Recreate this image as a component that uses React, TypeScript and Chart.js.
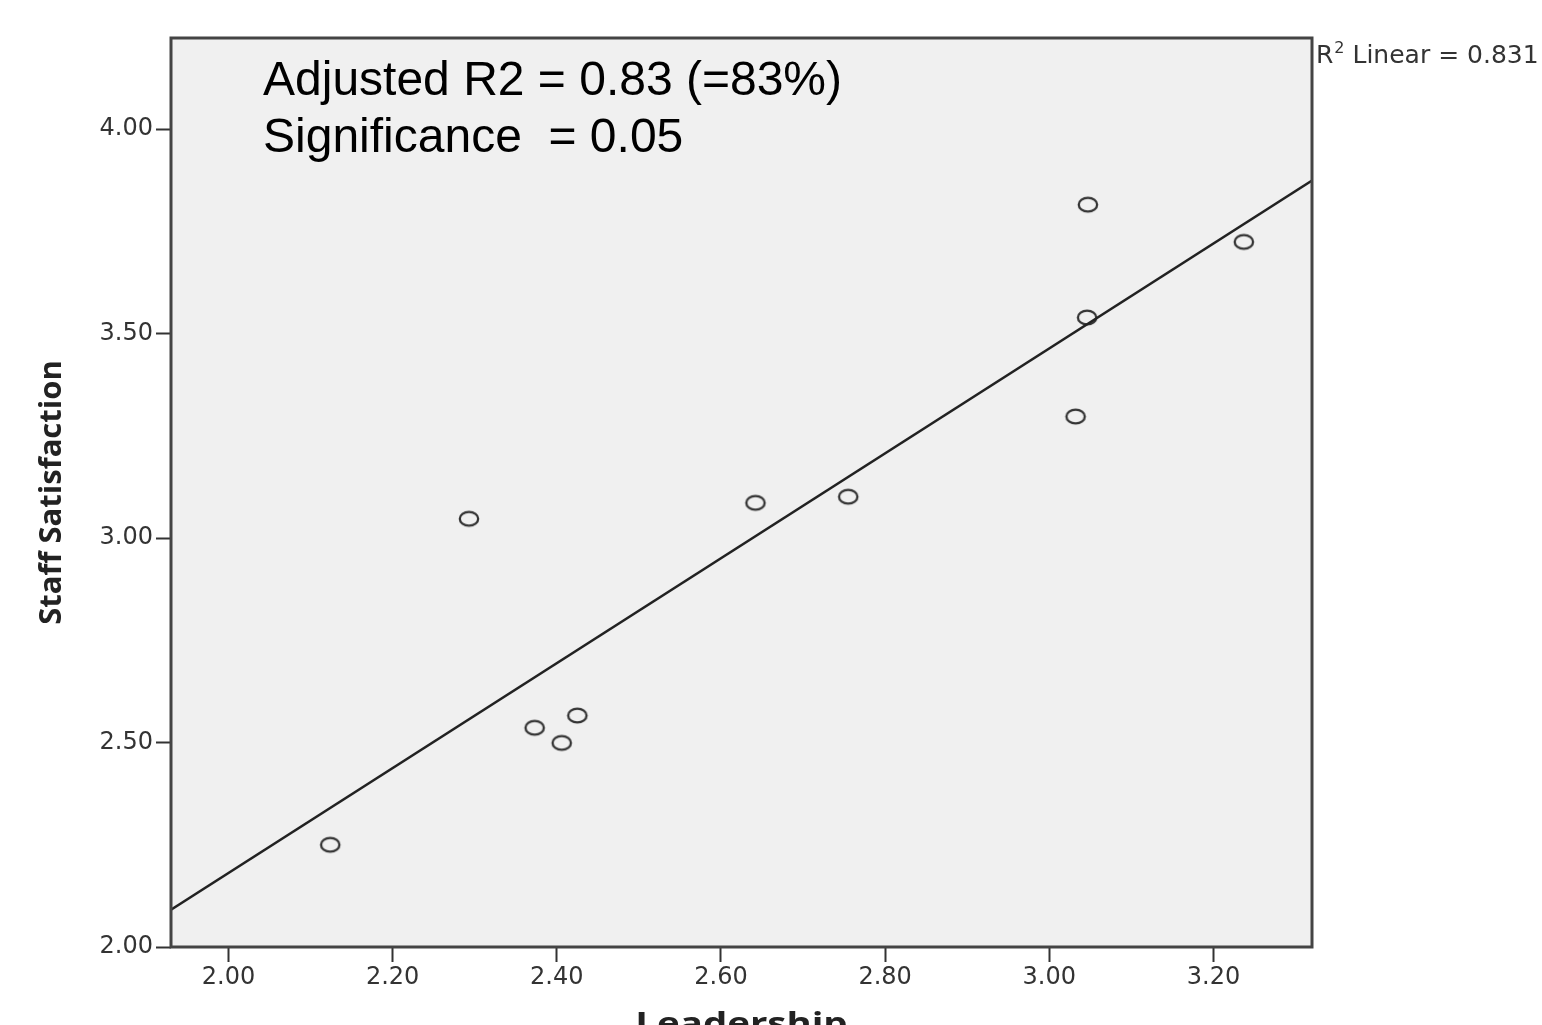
import React, { useEffect, useRef } from "react";
import { Chart, registerables } from "chart.js";

Chart.register(...registerables);

// Data
const leadership = [2.124, 2.293, 2.373, 2.406, 2.425, 2.642, 2.755, 3.032, 3.046, 3.047, 3.237];
const satisfaction = [2.25, 3.047, 2.536, 2.499, 2.566, 3.086, 3.101, 3.297, 3.539, 3.815, 3.724];
const fitX = [1.93, 3.32];
const fitY = [2.091, 3.874];
const xTicks = [2.0, 2.2, 2.4, 2.6, 2.8, 3.0, 3.2];
const yTicks = [2.0, 2.5, 3.0, 3.5, 4.0];
const xTitle = "Leadership";
const yTitle = "Staff Satisfaction";
const annotationLines = ["Adjusted R2 = 0.83 (=83%)", "Significance  = 0.05"];
const r2Label = { base: "R", sup: "2", rest: " Linear = 0.831" };

const W = 1542;
const H = 1040;

function makeMarker(): HTMLCanvasElement {
  const c = document.createElement("canvas");
  c.width = 24;
  c.height = 19;
  const ctx = c.getContext("2d")!;
  ctx.strokeStyle = "#333";
  ctx.lineWidth = 2.3;
  ctx.beginPath();
  ctx.ellipse(12, 9.5, 9.2, 6.8, 0, 0, Math.PI * 2);
  ctx.stroke();
  return c;
}

const framePlugin = {
  id: "frame",
  beforeDraw(chart: any) {
    const { ctx, chartArea } = chart;
    ctx.save();
    ctx.fillStyle = "#f0f0f0";
    ctx.fillRect(chartArea.left, chartArea.top, chartArea.right - chartArea.left, chartArea.bottom - chartArea.top);
    ctx.restore();
  },
  afterDraw(chart: any) {
    const { ctx, chartArea } = chart;
    ctx.save();
    ctx.strokeStyle = "#444";
    ctx.lineWidth = 3;
    ctx.strokeRect(chartArea.left, chartArea.top, chartArea.right - chartArea.left, chartArea.bottom - chartArea.top);
    // annotation text
    ctx.fillStyle = "#000";
    ctx.font = '48px "Liberation Sans", Arial, sans-serif';
    ctx.textBaseline = "alphabetic";
    ctx.textAlign = "left";
    annotationLines.forEach((t, i) => {
      ctx.fillText(t, chartArea.left + 92, chartArea.top + 57 + i * 57);
    });
    // R2 label
    ctx.fillStyle = "#333";
    let x = chartArea.right + 4;
    const y = chartArea.top + 25;
    ctx.font = '25px "DejaVu Sans", sans-serif';
    ctx.fillText(r2Label.base, x, y);
    x += ctx.measureText(r2Label.base).width + 1;
    ctx.font = '16px "DejaVu Sans", sans-serif';
    ctx.fillText(r2Label.sup, x, y - 10);
    x += ctx.measureText(r2Label.sup).width;
    ctx.font = '25px "DejaVu Sans", sans-serif';
    ctx.fillText(r2Label.rest, x, y);
    // x axis title (horizontally stretched like the reference)
    ctx.fillStyle = "#222";
    ctx.font = 'bold 30px "Open Sans", sans-serif';
    ctx.textAlign = "center";
    const cx = (chartArea.left + chartArea.right) / 2;
    ctx.translate(cx, 1034);
    ctx.scale(1.28, 1);
    ctx.fillText(xTitle, 0, 0);
    ctx.restore();
  },
};

export default function App() {
  const ref = useRef<HTMLCanvasElement | null>(null);

  useEffect(() => {
    if (!ref.current) return;
    const marker = makeMarker();
    const tickFont = { family: '"DejaVu Sans", sans-serif', size: 24 };
    const chart = new Chart(ref.current, {
      type: "scatter",
      data: {
        datasets: [
          {
            type: "line",
            data: fitX.map((v, i) => ({ x: v, y: fitY[i] })),
            borderColor: "#222",
            borderWidth: 2.5,
            pointRadius: 0,
            fill: false,
          } as any,
          {
            data: leadership.map((v, i) => ({ x: v, y: satisfaction[i] })),
            pointStyle: marker as any,
            pointRadius: 10,
          },
        ],
      },
      plugins: [framePlugin],
      options: {
        animation: false,
        responsive: false,
        layout: { padding: { left: 0, top: 38, right: 230, bottom: 0 } },
        plugins: { legend: { display: false }, tooltip: { enabled: false } },
        scales: {
          x: {
            type: "linear",
            min: 1.93,
            max: 3.32,
            afterBuildTicks: (s: any) => {
              s.ticks = xTicks.map((v) => ({ value: v }));
            },
            afterFit: (s: any) => {
              s.height = H - 947;
            },
            grid: { display: true, drawOnChartArea: false, drawTicks: true, tickLength: 15, tickWidth: 2, tickColor: "#333" },
            border: { display: false },
            ticks: {
              font: tickFont,
              color: "#333",
              padding: 1,
              maxRotation: 0,
              autoSkip: false,
              callback: (v: any) => Number(v).toFixed(2),
            },
            title: { display: false, text: xTitle },
          },
          y: {
            type: "linear",
            min: 2.0,
            max: 4.2225,
            afterBuildTicks: (s: any) => {
              s.ticks = yTicks.map((v) => ({ value: v }));
            },
            afterFit: (s: any) => {
              s.width = 171;
            },
            grid: { display: true, drawOnChartArea: false, drawTicks: true, tickLength: 15, tickWidth: 2, tickColor: "#333" },
            border: { display: false },
            ticks: {
              font: tickFont,
              color: "#333",
              padding: 3,
              autoSkip: false,
              callback: (v: any) => Number(v).toFixed(2),
            },
            title: {
              display: true,
              text: yTitle,
              color: "#222",
              font: { family: '"Open Sans", sans-serif', size: 31, weight: "bold", lineHeight: 1.2 },
              padding: { top: 34, bottom: 0 },
            },
          },
        },
      },
    });
    return () => chart.destroy();
  }, []);

  return (
    <div style={{ position: "fixed", left: 0, top: 0, width: W, height: H, background: "#fff" }}>
      <canvas ref={ref} width={W} height={H} style={{ display: "block", width: W, height: H }} />
    </div>
  );
}
